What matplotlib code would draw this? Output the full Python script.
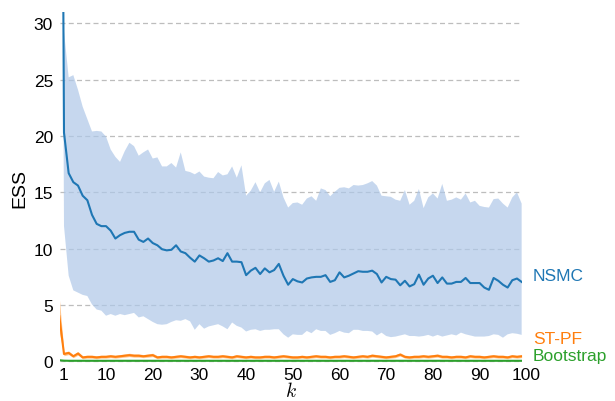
import numpy as np
import matplotlib.pyplot as plt

plt.rcParams['font.family'] = ['Liberation Sans', 'DejaVu Sans']
plt.rcParams['mathtext.fontset'] = 'cm'

# time step index (first one sits left of the visible range)
k = np.arange(0, 100)

nsmc_mean = [100, 20.3, 16.7, 15.9, 15.6, 14.7, 14.3, 13.0, 12.2, 12.0,
             12.0, 11.6, 10.9, 11.2, 11.4, 11.5, 11.5, 10.8, 10.6, 10.9,
             10.5, 10.3, 9.95, 9.85, 9.9, 10.3, 9.75, 9.6, 9.2, 8.85,
             9.4, 9.15, 8.85, 8.95, 9.15, 8.9, 9.6, 8.85, 8.85, 8.8,
             7.65, 8.05, 8.3, 7.75, 8.25, 7.9, 8.1, 8.65, 7.6, 6.8,
             7.3, 7.1, 7.0, 7.35, 7.45, 7.5, 7.5, 7.65, 7.05, 7.2,
             7.9, 7.45, 7.6, 7.8, 8.0, 7.95, 7.95, 8.05, 7.75, 7.0,
             7.5, 7.3, 7.25, 6.75, 7.15, 6.65, 6.85, 7.7, 6.8, 7.35,
             7.6, 6.95, 7.45, 6.9, 6.9, 7.05, 7.05, 7.4, 6.95, 6.95,
             6.95, 6.55, 6.35, 7.4, 7.15, 6.8, 6.55, 7.2, 7.35, 7.05]

nsmc_high = [100, 29.3, 25.2, 25.4, 24.1, 22.6, 21.5, 20.4, 20.45, 20.4,
             19.95, 18.8, 18.15, 17.7, 18.65, 19.4, 19.1, 18.25, 18.55, 18.8,
             18.0, 18.1, 17.3, 17.3, 17.6, 17.2, 18.55, 16.9, 16.8, 16.6,
             16.85, 16.4, 16.3, 16.25, 16.8, 16.5, 16.6, 17.3, 16.3, 17.4,
             14.7, 15.15, 15.9, 15.0, 15.8, 16.1, 15.05, 15.95, 14.55, 13.65,
             14.05, 14.1, 13.9, 14.45, 14.65, 14.25, 15.35, 15.2, 14.65, 15.05,
             15.4, 15.45, 15.35, 15.65, 15.6, 15.65, 15.8, 16.0, 15.6, 14.7,
             14.65, 14.6, 14.35, 14.25, 15.2, 13.9, 14.25, 15.3, 13.6, 14.55,
             14.9, 14.45, 15.75, 14.25, 14.35, 14.55, 14.35, 14.9, 14.1, 14.25,
             13.8, 13.7, 13.65, 14.4, 14.45, 14.0, 13.65, 14.55, 15.0, 14.0]

nsmc_low = [100, 12.0, 7.6, 6.3, 6.1, 5.9, 5.8, 5.05, 4.6, 4.5,
            4.05, 4.2, 4.05, 4.2, 4.1, 4.2, 4.3, 3.9, 4.0, 3.75,
            3.5, 3.3, 3.25, 3.3, 3.5, 3.65, 3.6, 3.75, 3.55, 2.8,
            3.3, 2.9, 3.1, 3.2, 3.3, 3.1, 2.85, 3.45, 3.15, 3.0,
            2.65, 2.8, 2.85, 2.7, 2.8, 2.8, 2.85, 2.85, 2.4, 2.1,
            2.4, 2.35, 2.35, 2.7, 2.5, 2.85, 2.7, 2.7, 2.35, 2.5,
            2.7, 2.55, 2.5, 2.8, 2.8, 2.7, 2.7, 2.65, 2.3, 2.55,
            2.25, 2.15, 2.2, 2.3, 2.4, 2.25, 2.25, 2.2, 2.25, 2.35,
            2.2, 2.35, 2.2, 2.3, 2.4, 2.3, 2.55, 2.4, 2.3, 2.2,
            2.2, 2.2, 2.25, 2.4, 2.35, 2.1, 2.4, 2.5, 2.45, 2.35]

stpf_mean = [4.0, 0.65, 0.75, 0.45, 0.7, 0.35, 0.4, 0.4, 0.35, 0.4,
             0.4, 0.45, 0.4, 0.45, 0.5, 0.55, 0.5, 0.5, 0.45, 0.5,
             0.55, 0.35, 0.4, 0.4, 0.35, 0.4, 0.45, 0.4, 0.35, 0.4,
             0.35, 0.4, 0.45, 0.4, 0.4, 0.45, 0.4, 0.35, 0.45, 0.4,
             0.35, 0.4, 0.35, 0.35, 0.4, 0.4, 0.35, 0.4, 0.45, 0.4,
             0.35, 0.35, 0.4, 0.35, 0.4, 0.45, 0.4, 0.4, 0.35, 0.4,
             0.4, 0.45, 0.4, 0.35, 0.4, 0.45, 0.4, 0.5, 0.45, 0.4,
             0.35, 0.4, 0.45, 0.6, 0.4, 0.35, 0.4, 0.4, 0.45, 0.4,
             0.45, 0.5, 0.4, 0.4, 0.35, 0.4, 0.4, 0.35, 0.45, 0.4,
             0.4, 0.35, 0.4, 0.45, 0.4, 0.4, 0.35, 0.45, 0.4, 0.45]

stpf_low = [2.6, 0.5, 0.6, 0.33, 0.55, 0.23, 0.28, 0.28, 0.23, 0.28,
            0.28, 0.33, 0.28, 0.33, 0.37, 0.42, 0.37, 0.37, 0.33, 0.37,
            0.42, 0.23, 0.28, 0.28, 0.23, 0.28, 0.33, 0.28, 0.23, 0.28,
            0.23, 0.28, 0.33, 0.28, 0.28, 0.33, 0.28, 0.23, 0.33, 0.28,
            0.23, 0.28, 0.23, 0.23, 0.28, 0.28, 0.23, 0.28, 0.33, 0.28,
            0.23, 0.23, 0.28, 0.23, 0.28, 0.33, 0.28, 0.28, 0.23, 0.28,
            0.28, 0.33, 0.28, 0.23, 0.28, 0.33, 0.28, 0.37, 0.33, 0.28,
            0.23, 0.28, 0.33, 0.47, 0.28, 0.23, 0.28, 0.28, 0.33, 0.28,
            0.33, 0.37, 0.28, 0.28, 0.23, 0.28, 0.28, 0.23, 0.33, 0.28,
            0.28, 0.23, 0.28, 0.33, 0.28, 0.28, 0.23, 0.33, 0.28, 0.33]

stpf_high = [5.6, 0.82, 0.92, 0.6, 0.87, 0.5, 0.55, 0.55, 0.5, 0.55,
             0.55, 0.6, 0.55, 0.6, 0.66, 0.72, 0.66, 0.66, 0.6, 0.66,
             0.72, 0.5, 0.55, 0.55, 0.5, 0.55, 0.6, 0.55, 0.5, 0.55,
             0.5, 0.55, 0.6, 0.55, 0.55, 0.6, 0.55, 0.5, 0.6, 0.55,
             0.5, 0.55, 0.5, 0.5, 0.55, 0.55, 0.5, 0.55, 0.6, 0.55,
             0.5, 0.5, 0.55, 0.5, 0.55, 0.6, 0.55, 0.55, 0.5, 0.55,
             0.55, 0.6, 0.55, 0.5, 0.55, 0.6, 0.55, 0.66, 0.6, 0.55,
             0.5, 0.55, 0.6, 0.76, 0.55, 0.5, 0.55, 0.55, 0.6, 0.55,
             0.6, 0.66, 0.55, 0.55, 0.5, 0.55, 0.55, 0.5, 0.6, 0.55,
             0.55, 0.5, 0.55, 0.6, 0.55, 0.55, 0.5, 0.6, 0.55, 0.6]

boot_mean = [0.1, 0.06, 0.05, 0.05, 0.05, 0.05, 0.05, 0.05, 0.05, 0.05,
             0.05, 0.05, 0.05, 0.05, 0.05, 0.05, 0.05, 0.05, 0.05, 0.05,
             0.05, 0.05, 0.05, 0.05, 0.05, 0.05, 0.05, 0.05, 0.05, 0.05,
             0.05, 0.05, 0.05, 0.05, 0.05, 0.05, 0.05, 0.05, 0.05, 0.05,
             0.05, 0.05, 0.05, 0.05, 0.05, 0.05, 0.05, 0.05, 0.05, 0.05,
             0.05, 0.05, 0.05, 0.05, 0.05, 0.05, 0.05, 0.05, 0.05, 0.05,
             0.05, 0.05, 0.05, 0.05, 0.05, 0.05, 0.05, 0.05, 0.05, 0.05,
             0.05, 0.05, 0.05, 0.05, 0.05, 0.05, 0.05, 0.05, 0.05, 0.05,
             0.05, 0.05, 0.05, 0.05, 0.05, 0.05, 0.05, 0.05, 0.05, 0.05,
             0.05, 0.05, 0.05, 0.05, 0.05, 0.05, 0.05, 0.05, 0.05, 0.05]

xticks = [1, 10, 20, 30, 40, 50, 60, 70, 80, 90]
yticks = [0, 5, 10, 15, 20, 25, 30]

blue = '#1f77b4'
orange = '#ff7f0e'
green = '#2ca02c'

fig = plt.figure(figsize=(6.15, 4.02), dpi=100)
ax = fig.add_axes([0.0976, 0.093, 0.7506, 0.8746])

ax.fill_between(k, nsmc_low, nsmc_high, color='#aec7e8', alpha=0.7, lw=0, zorder=2)
ax.plot(k, nsmc_mean, color=blue, lw=1.5, zorder=3)
ax.fill_between(k, stpf_low, stpf_high, color='#ffbb78', alpha=0.8, lw=0, zorder=2)
ax.plot(k, stpf_mean, color=orange, lw=1.5, zorder=3)
ax.plot(k, boot_mean, color=green, lw=1.5, zorder=3)

ax.set_xlim(0.15, 99)
ax.set_ylim(-0.2, 31)
ax.set_xticks(xticks)
ax.set_yticks(yticks)
ax.tick_params(axis='both', length=0, labelsize=12.5)
ax.tick_params(axis='y', pad=5)
ax.tick_params(axis='x', pad=2.5)
# the last tick label lies just past the data range
ax.annotate('100', xy=(100, 0), xycoords=('data', 'axes fraction'),
            xytext=(0, -2.5), textcoords='offset points',
            ha='center', va='top', fontsize=12.5, annotation_clip=False)

for s in ax.spines.values():
    s.set_visible(False)
ax.yaxis.grid(True, color='#bdbdbd', ls=(0, (4, 2.6)), lw=0.9, zorder=1)
ax.set_axisbelow(True)

ax.set_ylabel('ESS', fontsize=14, labelpad=4)
ax.set_xlabel(r'$k$', fontsize=14, labelpad=-1)

ax.text(101.4, 7.6, 'NSMC', color=blue, fontsize=12.5, va='center', clip_on=False)
ax.text(101.4, 2.0, 'ST-PF', color=orange, fontsize=12.5, va='center', clip_on=False)
ax.text(101.4, 0.55, 'Bootstrap', color=green, fontsize=12.5, va='center', clip_on=False)

fig.savefig('out.png', dpi=100)
